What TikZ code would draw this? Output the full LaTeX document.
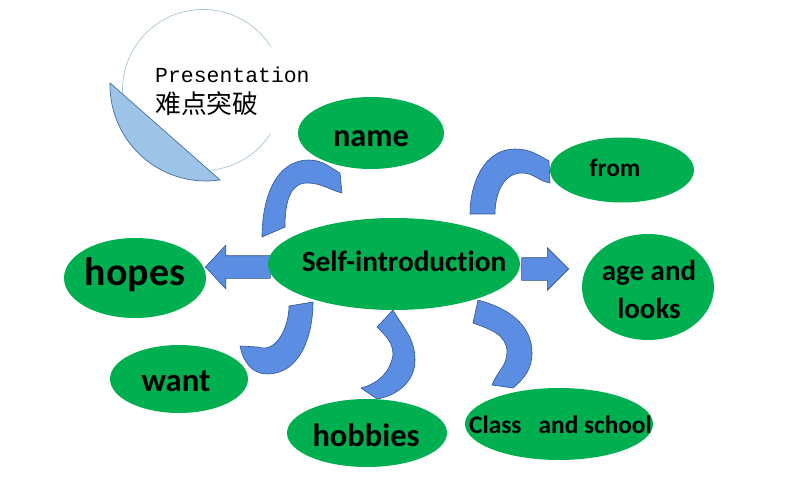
\documentclass[tikz,border=0pt]{standalone}
\usepackage{fontspec}
\setmainfont{Carlito}[Ligatures=NoCommon]
\newfontfamily\monofont{Liberation Mono}
\newfontfamily\cjkfont{Noto Sans CJK SC}
\usetikzlibrary{shapes.geometric,shapes.arrows}

\definecolor{leafgreen}{RGB}{0,176,80}
\definecolor{bandblue}{RGB}{91,142,226}
\definecolor{banddark}{RGB}{47,82,143}
\definecolor{paleblue}{RGB}{157,195,230}
\definecolor{paleedge}{RGB}{65,113,156}
\definecolor{ringgray}{RGB}{168,198,210}

\newcommand{\pxl}{0.3mm}
\newcommand{\fsz}[1]{\fontsize{#1}{1.25\dimexpr#1pt\relax}\selectfont}

\begin{document}
\begin{tikzpicture}[x=0.3mm, y=0.3mm]

\tikzstyle{bubble} = [ellipse, fill=leafgreen, inner sep=0pt]
\tikzstyle{band} = [fill=bandblue, draw=banddark, line width=0.5pt]
\tikzstyle{word} = [font=\bfseries, align=center, inner sep=0pt, anchor=base]

\useasboundingbox (0,0) rectangle (794,-496);

% Title ring and segment
\draw[ringgray, line width=0.6pt] (203,-90) ++(32:80.5) arc[start angle=32, end angle=327, radius=80.5];
\draw[fill=paleblue, draw=paleedge, line width=0.6pt] (206,-85) ++(178.8:96) arc[start angle=178.8, end angle=278.4, radius=96] -- cycle;

\node[anchor=base west, inner sep=0pt, font=\monofont\fsz{18.3}] (title) at (155,-83) {Presentation};
\node[anchor=base west, inner sep=0pt, font=\cjkfont\fsz{22}] (subtitle) at (155,-114) {难点突破};

% Curved bands
\draw[band] (262,-237) to[out=90,in=180] (309,-160) to[out=0,in=150] (340,-173) -- (342,-193) to[out=165,in=0] (307,-183) to[out=180,in=90] (285,-227) -- cycle;
\draw[band] (470,-214) to[out=90,in=180] (515,-149) to[out=0,in=150] (549,-161) -- (550,-183) to[out=170,in=0] (522,-173) to[out=180,in=90] (495,-214) -- cycle;
\draw[band] (313,-302) to[out=-90,in=0] (267,-374) to[out=180,in=-80] (240,-346) -- (258,-347) to[out=-20,in=-90] (289,-306) -- cycle;
\draw[band] (393,-310) to[out=-60,in=90] (415,-360) to[out=-90,in=10] (377,-399) -- (361,-388) to[out=15,in=-100] (393,-355) to[out=90,in=-45] (377,-327) -- cycle;
\draw[band] (478,-300) to[out=-15,in=90] (532,-353) to[out=-90,in=40] (513,-388) -- (492,-385) to[out=70,in=-90] (507,-352) to[out=90,in=-20] (473,-323) -- cycle;

% Straight block arrows
\node[band, single arrow, shape border rotate=180, anchor=tip, inner xsep=0pt, inner ysep=11*\pxl,
      minimum height=65*\pxl, single arrow head extend=10.5*\pxl,
      single arrow tip angle=94] (toHopes) at (205,-267) {};
\node[band, single arrow, anchor=tip, inner xsep=0pt, inner ysep=11*\pxl,
      minimum height=47*\pxl, single arrow head extend=10*\pxl,
      single arrow tip angle=90] (toAge) at (569,-269) {};

% Ellipses
\node[bubble, minimum width=146*\pxl, minimum height=72*\pxl] (name) at (371,-133) {};
\node[bubble, minimum width=144*\pxl, minimum height=65*\pxl] (from) at (622,-170) {};
\node[bubble, minimum width=252*\pxl, minimum height=92*\pxl] (self) at (394,-264) {};
\node[bubble, minimum width=142*\pxl, minimum height=80*\pxl] (hopes) at (135,-278) {};
\node[bubble, minimum width=132*\pxl, minimum height=106*\pxl] (age) at (648,-287) {};
\node[bubble, minimum width=138*\pxl, minimum height=68*\pxl] (want) at (179,-379) {};
\node[bubble, minimum width=160*\pxl, minimum height=68*\pxl] (hobbies) at (367,-433) {};
\node[bubble, minimum width=188*\pxl, minimum height=72*\pxl] (school) at (559,-424) {};

% Labels
\node[word, font=\bfseries\fsz{27.5}] (nameText) at (371,-147) {name};
\node[word, font=\bfseries\fsz{21.5}] (fromText) at (615,-177) {from};
\node[word, font=\bfseries\fsz{25}] (selfText) at (404,-271) {Self-introduction};
\node[word, font=\bfseries\fsz{34}] (hopesText) at (135,-285) {hopes};
\node[word, font=\bfseries\fontsize{24.7}{31.6}\selectfont] (ageText) at (649,-318) {age and\\looks};
\node[word, font=\bfseries\fsz{28}] (wantText) at (176,-391) {want};
\node[word, font=\bfseries\fsz{27.7}] (hobbiesText) at (366,-446) {hobbies};
\node[word, anchor=base west, font=\bfseries\fsz{21.6}] (schoolText) at (469,-433) {Class\ \ \ and school};

\end{tikzpicture}
\end{document}
